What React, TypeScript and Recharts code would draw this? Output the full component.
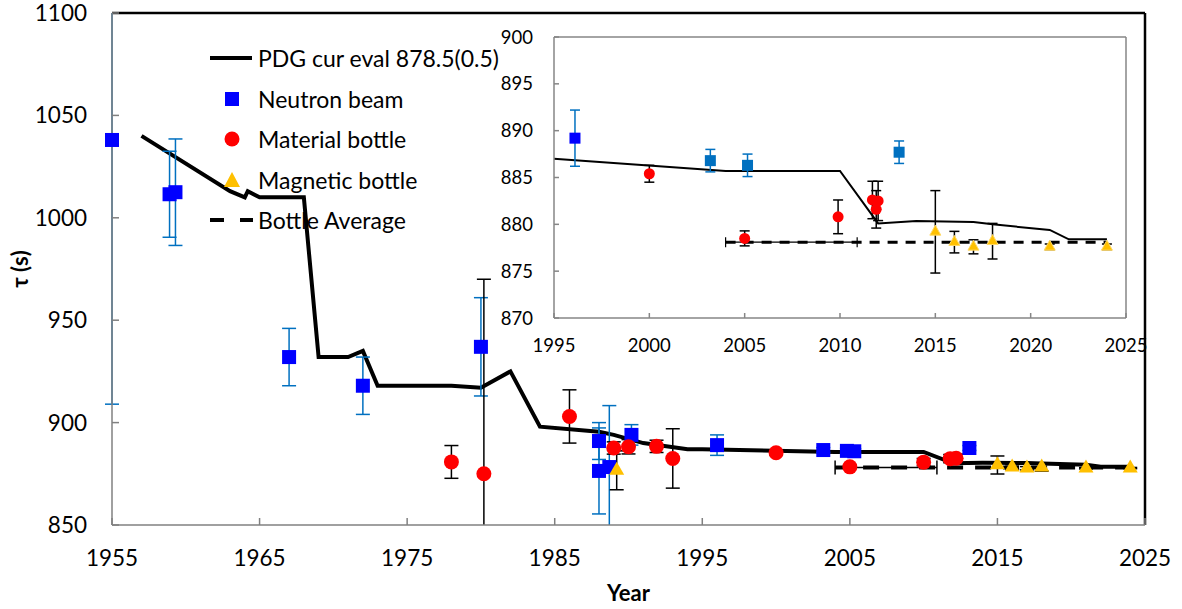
import {
  Cell,
  ComposedChart,
  ErrorBar,
  Line,
  ReferenceLine,
  Scatter,
  XAxis,
  YAxis,
} from 'recharts'

const FONT = "Lato, 'Open Sans', sans-serif"

// tick labels
const mainYears = [1955, 1965, 1975, 1985, 1995, 2005, 2015, 2025]
const mainTau = [850, 900, 950, 1000, 1050, 1100]
const insetYears = [1995, 2000, 2005, 2010, 2015, 2020, 2025]
const insetTau = [870, 875, 880, 885, 890, 895, 900]

// PDG evaluation history [year, tau]
const pdgHistory: [number, number][] = [
  [1957, 1040], [1963, 1013], [1964, 1010], [1964.2, 1013], [1965, 1010],
  [1968, 1010], [1969, 932], [1971, 932], [1972, 935], [1973, 918],
  [1978, 918], [1980, 917], [1982, 925], [1984, 898], [1988, 895.5],
  [1989, 894], [1991, 890], [1994, 887], [1995, 887], [2004, 885.7],
  [2010, 885.7], [2012, 880.1], [2014, 880.35], [2017, 880.25], [2018, 880.0],
  [2021, 879.4], [2022, 878.4], [2024, 878.4],
]

// bottle average line
const bottleAvg: [number, number][] = [[2004, 878.1], [2024, 878.1]]
// [centre year, tau, half width in years]
const bottleAvgSpan: [number, number, number][] = [[2007.45, 878.1, 3.45]]

// main plot measurements [year, tau, error]
const neutronBeam: [number, number, number][] = [
  [1955, 1038, 129], [1958.9, 1011.5, 21], [1959.3, 1012.5, 26], [1967, 932, 14],
  [1972, 918, 14], [1980, 937, 24], [1988, 891, 9], [1988, 876.4, 21],
  [1988.7, 878.3, 30], [1990.2, 894, 5], [1996, 889, 5], [2003.2, 886.6, 1.2],
  [2004.8, 886.2, 1.2], [2005.3, 886.0, 1.2], [2013.1, 887.6, 1.2],
]
const materialBottle: [number, number, number][] = [
  [1978, 880.8, 8], [1980.2, 875, 95], [1986, 903, 13], [1989, 887.6, 3],
  [1990, 888.2, 3.5], [1991.9, 888.4, 3], [1993, 882.5, 14.5], [2000, 885.3, 1],
  [2005, 878.4, 0.8], [2010, 880.7, 1.8], [2011.8, 882.4, 2], [2012.2, 882.6, 2],
]
const magneticBottle: [number, number, number][] = [
  [1989.2, 876.7, 9.5], [2015, 879.3, 4.4], [2016, 878.2, 1.2], [2017, 877.7, 0.8],
  [2018, 878.2, 1.9], [2021, 877.7, 0.3], [2024, 877.8, 0.3],
]

// inset measurements [year, tau, error]
const insetBeam: [number, number, number][] = [
  [1996.1, 889.2, 3.0], [2003.2, 886.8, 1.2], [2005.15, 886.3, 1.2], [2013.1, 887.7, 1.2],
]
const insetBeamColors = ['#0000FF', '#0070C0', '#0070C0', '#0070C0']
const insetMaterial: [number, number, number][] = [
  [2000, 885.4, 0.9], [2005, 878.5, 0.8], [2009.9, 880.8, 1.8],
  [2011.7, 882.6, 2.0], [2012.0, 882.5, 2.1], [2011.9, 881.6, 2.0],
]
const insetMagnetic: [number, number, number][] = [
  [2015, 879.2, 4.4], [2016, 878.1, 1.15], [2017, 877.6, 0.75],
  [2018, 878.2, 1.9], [2021, 877.6, 0.3], [2024, 877.6, 0.3],
]

const toLine = (rows: [number, number][]) => rows.map(([x, y]) => ({ x, y }))
const toPts = (rows: [number, number, number][]) => rows.map(([x, y, e]) => ({ x, y, e }))

const pdgMain = toLine(pdgHistory)
const pdgInset = toLine(pdgHistory.filter(([x]) => x >= 1995))
const avgLine = toLine(bottleAvg)
const avgSpan = bottleAvgSpan.map(([x, y, xe]) => ({ x, y, xe }))

function square(size: number) {
  return (p: any) => (
    <rect x={p.cx - size / 2} y={p.cy - size / 2} width={size} height={size} fill={p.fill} />
  )
}

function circle(r: number) {
  return (p: any) => <circle cx={p.cx} cy={p.cy} r={r} fill={p.fill} />
}

function triangle(w: number, h: number, stroke?: string) {
  return (p: any) => (
    <polygon
      points={`${p.cx},${p.cy - (h * 2) / 3} ${p.cx - w / 2},${p.cy + h / 3} ${p.cx + w / 2},${p.cy + h / 3}`}
      fill={p.fill}
      stroke={stroke ?? 'none'}
      strokeWidth={1}
    />
  )
}

const nothing = () => <g />

function TauTitle() {
  return (
    <text
      x={19}
      y={269}
      transform="rotate(-90 19 269)"
      textAnchor="middle"
      dominantBaseline="central"
      fontFamily={FONT}
      fontSize={22}
      fontWeight={700}
      fill="#000"
    >
      τ (s)
    </text>
  )
}

function LegendIcon({ kind }: { kind: string }) {
  return (
    <svg width={53} height={40} style={{ display: 'block' }}>
      {kind === 'line' && <line x1={5} x2={47} y1={20} y2={20} stroke="#000" strokeWidth={4} />}
      {kind === 'square' && <rect x={20} y={13} width={14} height={14} fill="#0000FF" />}
      {kind === 'circle' && <circle cx={27} cy={20} r={7.5} fill="#FF0000" />}
      {kind === 'triangle' && <polygon points="27,12 19,27 35,27" fill="#FFC000" />}
      {kind === 'dash' && (
        <line x1={5} x2={48} y1={20} y2={20} stroke="#000" strokeWidth={4} strokeDasharray="14 16" />
      )}
    </svg>
  )
}

const legendItems = [
  { kind: 'line', label: 'PDG cur eval 878.5(0.5)' },
  { kind: 'square', label: 'Neutron beam' },
  { kind: 'circle', label: 'Material bottle' },
  { kind: 'triangle', label: 'Magnetic bottle' },
  { kind: 'dash', label: 'Bottle Average' },
]

// error bars are cut at the top and bottom of each plot area
const clipCss = `
.main-chart g[class*="recharts-errorBar"] { clip-path: url(#mainPlotClip); }
.inset-chart g[class*="recharts-errorBar"] { clip-path: url(#insetPlotClip); }
`

function MainChart() {
  const axisTick = { fill: '#000', fontSize: 22.5, fontFamily: FONT }
  return (
    <ComposedChart
      className="main-chart"
      width={1182}
      height={609}
      margin={{ top: 13, right: 37, bottom: 0, left: 0 }}
    >
      <XAxis
        type="number"
        dataKey="x"
        domain={[1955, 2025]}
        ticks={mainYears}
        interval={0}
        height={84}
        tickSize={-7}
        tickMargin={32}
        stroke="#808080"
        strokeWidth={1.5}
        tick={axisTick}
        label={{
          value: 'Year',
          position: 'insideBottom',
          offset: 8,
          fill: '#000',
          fontSize: 22,
          fontWeight: 700,
          fontFamily: FONT,
        }}
      />
      <YAxis
        type="number"
        dataKey="y"
        domain={[850, 1100]}
        ticks={mainTau}
        interval={0}
        width={112}
        allowDataOverflow
        tickSize={-7}
        tickMargin={32}
        stroke="#808080"
        strokeWidth={1.5}
        tick={axisTick}
        label={<TauTitle />}
      />
      <ReferenceLine y={1100} stroke="#000" strokeWidth={2.5} />
      <ReferenceLine x={2025} stroke="#000" strokeWidth={2.5} />
      <Line
        data={avgLine}
        dataKey="y"
        type="linear"
        stroke="#000"
        strokeWidth={4}
        strokeDasharray="16 12"
        dot={false}
        activeDot={false}
        isAnimationActive={false}
      />
      <Line
        data={pdgMain}
        dataKey="y"
        type="linear"
        stroke="#000"
        strokeWidth={4}
        dot={false}
        activeDot={false}
        isAnimationActive={false}
      />
      <Scatter data={avgSpan} fill="#000" shape={nothing} isAnimationActive={false}>
        <ErrorBar dataKey="xe" direction="x" width={7} stroke="#000" strokeWidth={1.5} />
      </Scatter>
      <Scatter data={toPts(neutronBeam)} fill="#0000FF" shape={square(14)} isAnimationActive={false}>
        <ErrorBar dataKey="e" direction="y" width={7} stroke="#0070C0" strokeWidth={1.5} />
      </Scatter>
      <Scatter data={toPts(materialBottle)} fill="#FF0000" shape={circle(7.5)} isAnimationActive={false}>
        <ErrorBar dataKey="e" direction="y" width={7} stroke="#000" strokeWidth={1.5} />
      </Scatter>
      <Scatter data={toPts(magneticBottle)} fill="#FFC000" shape={triangle(15, 13)} isAnimationActive={false}>
        <ErrorBar dataKey="e" direction="y" width={7} stroke="#000" strokeWidth={1.5} />
      </Scatter>
    </ComposedChart>
  )
}

function InsetChart() {
  const axisTick = { fill: '#000', fontSize: 18.5, fontFamily: FONT }
  return (
    <ComposedChart
      className="inset-chart"
      width={700}
      height={342}
      margin={{ top: 21, right: 44, bottom: 0, left: 0 }}
    >
      <XAxis
        type="number"
        dataKey="x"
        domain={[1995, 2025]}
        ticks={insetYears}
        interval={0}
        height={40}
        tickSize={-5}
        tickMargin={26}
        stroke="#868686"
        strokeWidth={1.5}
        tick={axisTick}
      />
      <YAxis
        type="number"
        dataKey="y"
        domain={[870, 900]}
        ticks={insetTau}
        interval={0}
        width={84}
        allowDataOverflow
        tickSize={-5}
        tickMargin={26}
        stroke="#868686"
        strokeWidth={1.5}
        tick={axisTick}
      />
      <ReferenceLine y={900} stroke="#868686" strokeWidth={1.5} />
      <ReferenceLine x={2025} stroke="#868686" strokeWidth={1.5} />
      <Line
        data={avgLine}
        dataKey="y"
        type="linear"
        stroke="#000"
        strokeWidth={3}
        strokeDasharray="10 8"
        dot={false}
        activeDot={false}
        isAnimationActive={false}
      />
      <Line
        data={pdgInset}
        dataKey="y"
        type="linear"
        stroke="#000"
        strokeWidth={2}
        dot={false}
        activeDot={false}
        isAnimationActive={false}
      />
      <Scatter data={avgSpan} fill="#000" shape={nothing} isAnimationActive={false}>
        <ErrorBar dataKey="xe" direction="x" width={5} stroke="#000" strokeWidth={1.2} />
      </Scatter>
      <Scatter data={toPts(insetBeam)} fill="#0070C0" shape={square(11)} isAnimationActive={false}>
        {insetBeam.map((_, i) => (
          <Cell key={i} fill={insetBeamColors[i]} />
        ))}
        <ErrorBar dataKey="e" direction="y" width={5} stroke="#0070C0" strokeWidth={1.5} />
      </Scatter>
      <Scatter data={toPts(insetMaterial)} fill="#FF0000" shape={circle(5.5)} isAnimationActive={false}>
        <ErrorBar dataKey="e" direction="y" width={5} stroke="#000" strokeWidth={1.5} />
      </Scatter>
      <Scatter
        data={toPts(insetMagnetic)}
        fill="#FFC000"
        shape={triangle(11, 10, '#FFD966')}
        isAnimationActive={false}
      >
        <ErrorBar dataKey="e" direction="y" width={5} stroke="#000" strokeWidth={1.5} />
      </Scatter>
    </ComposedChart>
  )
}

export default function App() {
  return (
    <div style={{ position: 'absolute', left: 0, top: 0, width: 1182, height: 609, background: '#fff' }}>
      <style>{clipCss}</style>
      <svg width={0} height={0} style={{ position: 'absolute' }}>
        <defs>
          <clipPath id="mainPlotClip" clipPathUnits="userSpaceOnUse">
            <rect x={0} y={13} width={1182} height={512} />
          </clipPath>
          <clipPath id="insetPlotClip" clipPathUnits="userSpaceOnUse">
            <rect x={0} y={21} width={700} height={281} />
          </clipPath>
        </defs>
      </svg>
      <MainChart />
      <div style={{ position: 'absolute', left: 470, top: 16 }}>
        <InsetChart />
      </div>
      <div style={{ position: 'absolute', left: 205, top: 38, fontFamily: FONT, fontSize: 23, color: '#000' }}>
        {legendItems.map((it) => (
          <div key={it.label} style={{ display: 'flex', alignItems: 'center', height: 40.5 }}>
            <LegendIcon kind={it.kind} />
            <span style={{ whiteSpace: 'nowrap' }}>{it.label}</span>
          </div>
        ))}
      </div>
    </div>
  )
}
